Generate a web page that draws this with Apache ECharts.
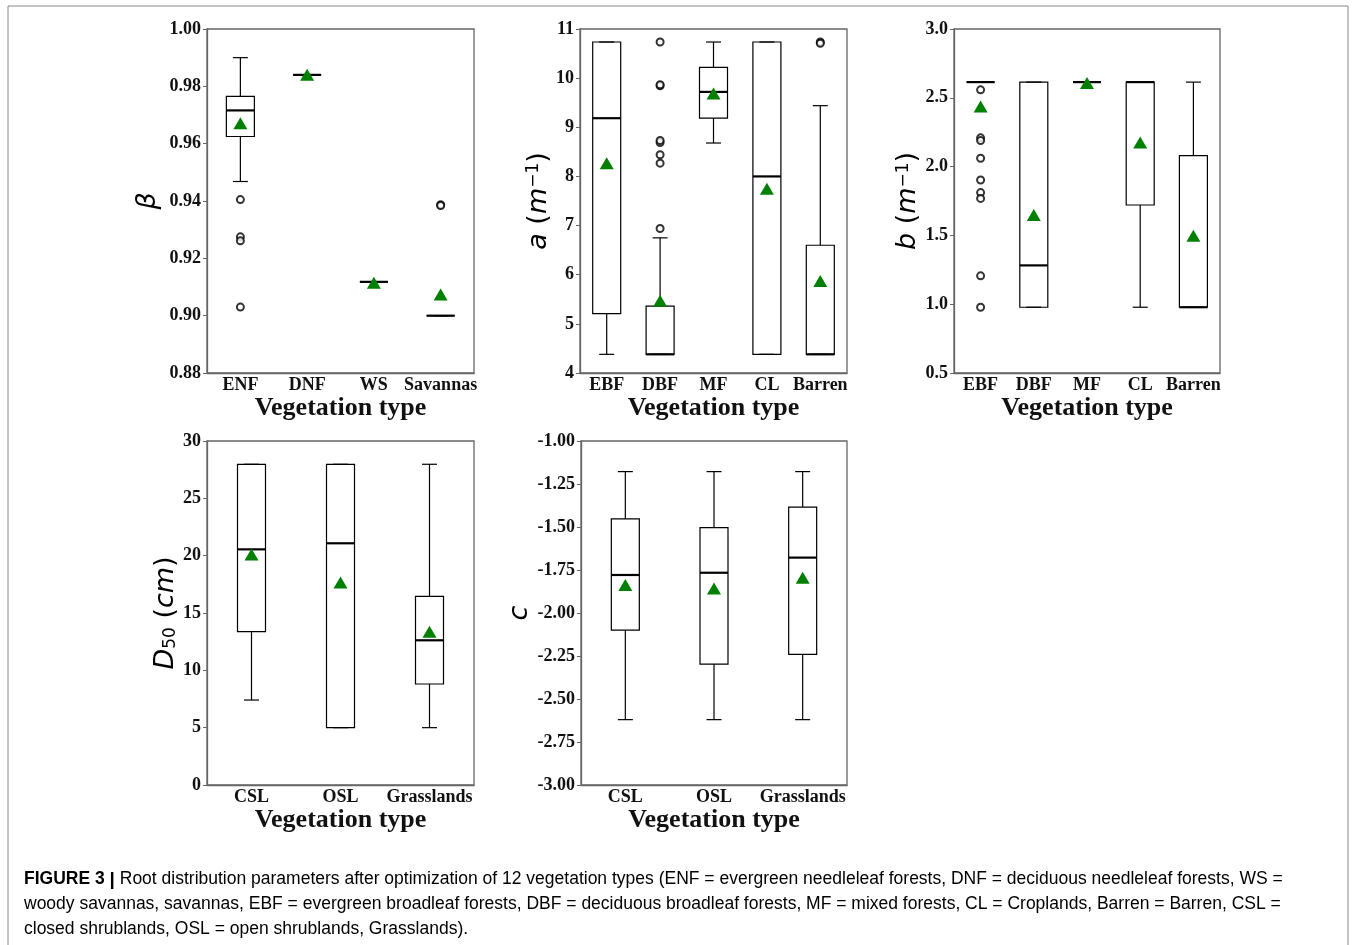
<!DOCTYPE html>
<html>
<head>
<meta charset="utf-8">
<title>Root distribution parameters</title>
<script src="https://cdn.jsdelivr.net/npm/echarts@6/dist/echarts.min.js"></script>
<style>
  html, body { margin: 0; padding: 0; background: #fff; }
  #main { width: 1354px; height: 945px; }
</style>
</head>
<body>
<div id="main"></div>
<script>
// box data: [lower whisker, Q1, median, Q3, upper whisker]
const betaCats = ["ENF", "DNF", "WS", "Savannas"];
const betaBox = [
  [0.9468, 0.9625, 0.9716, 0.9765, 0.990],
  [0.984, 0.984, 0.984, 0.984, 0.984],
  [0.9118, 0.9118, 0.9118, 0.9118, 0.9118],
  [0.900, 0.900, 0.900, 0.900, 0.900]
];
const betaMean = [0.9671, 0.9840, 0.9115, 0.9074];
const betaOut = [[0, 0.9405], [0, 0.9275], [0, 0.9261], [0, 0.9030], [3, 0.9387], [3, 0.9384]];

const aCats = ["EBF", "DBF", "MF", "CL", "Barren"];
const aBox = [
  [4.38, 5.21, 9.185, 10.735, 10.735],
  [4.38, 4.38, 4.38, 5.36, 6.75],
  [8.68, 9.185, 9.72, 10.22, 10.735],
  [4.38, 4.38, 8.0, 10.735, 10.735],
  [4.38, 4.38, 4.38, 6.6, 9.44]
];
const aMean = [8.27, 5.47, 9.69, 7.75, 5.87];
const aOut = [[1, 6.94], [1, 8.27], [1, 8.44], [1, 8.69], [1, 8.73], [1, 9.845], [1, 9.865], [1, 10.735], [4, 10.735], [4, 10.71]];

const bCats = ["EBF", "DBF", "MF", "CL", "Barren"];
const bBox = [
  [2.614, 2.614, 2.614, 2.614, 2.614],
  [0.978, 0.978, 1.282, 2.614, 2.614],
  [2.614, 2.614, 2.614, 2.614, 2.614],
  [0.978, 1.721, 2.614, 2.614, 2.614],
  [0.978, 0.978, 0.978, 2.08, 2.614]
];
const bMean = [2.437, 1.648, 2.607, 2.175, 1.498];
const bOut = [[0, 2.558], [0, 2.209], [0, 2.189], [0, 2.061], [0, 1.903], [0, 1.811], [0, 1.769], [0, 1.206], [0, 0.978]];

const d50Cats = ["CSL", "OSL", "Grasslands"];
const d50Box = [
  [7.41, 13.37, 20.55, 27.97, 27.97],
  [5.0, 5.0, 21.08, 27.97, 27.97],
  [5.0, 8.81, 12.62, 16.45, 27.97]
];
const d50Mean = [20.1, 17.67, 13.37];

const cCats = ["CSL", "OSL", "Grasslands"];
const cBox = [
  [-2.62, -2.099, -1.779, -1.453, -1.178],
  [-2.62, -2.297, -1.766, -1.504, -1.178],
  [-2.62, -2.240, -1.678, -1.384, -1.178]
];
const cMean = [-1.837, -1.857, -1.795];

const serif = "Liberation Serif";
const sans = "DejaVu Sans";
const frameColor = "#666";

// one box: whiskers with half-width caps, box, thicker median
function renderBox(params, api) {
  const i = api.value(0);
  const lo = api.coord([i, api.value(1)]);
  const q1 = api.coord([i, api.value(2)]);
  const md = api.coord([i, api.value(3)]);
  const q3 = api.coord([i, api.value(4)]);
  const hi = api.coord([i, api.value(5)]);
  const w = 28, cap = 15, cx = lo[0];
  const st = { stroke: "#000", lineWidth: 1.2, fill: null };
  const line = (x1, y1, x2, y2, lw) => ({
    type: "line",
    shape: { x1: x1, y1: y1, x2: x2, y2: y2 },
    style: Object.assign({}, st, lw ? { lineWidth: lw } : {})
  });
  return {
    type: "group",
    children: [
      line(cx, lo[1], cx, q1[1]),
      line(cx, q3[1], cx, hi[1]),
      line(cx - cap / 2, lo[1], cx + cap / 2, lo[1]),
      line(cx - cap / 2, hi[1], cx + cap / 2, hi[1]),
      { type: "rect", shape: { x: cx - w / 2, y: q3[1], width: w, height: q1[1] - q3[1] }, style: st },
      line(cx - w / 2, md[1], cx + w / 2, md[1], 2.2)
    ]
  };
}

const grids = [
  { left: 207, top: 29, width: 267, height: 344 },
  { left: 580, top: 29, width: 267, height: 344 },
  { left: 954, top: 29, width: 266, height: 344 },
  { left: 207, top: 441, width: 267, height: 344 },
  { left: 581, top: 441, width: 266, height: 344 }
];

const panels = [
  { cats: betaCats, box: betaBox, mean: betaMean, out: betaOut, min: 0.88, max: 1.0, step: 0.02, dec: 2,
    name: "{i|β}", gap: 46 },
  { cats: aCats, box: aBox, mean: aMean, out: aOut, min: 4, max: 11, step: 1, dec: 0,
    name: "{i|a} ({i|m}{s|−1})", gap: 25 },
  { cats: bCats, box: bBox, mean: bMean, out: bOut, min: 0.5, max: 3.0, step: 0.5, dec: 1,
    name: "{i|b} ({i|m}{s|−1})", gap: 32 },
  { cats: d50Cats, box: d50Box, mean: d50Mean, out: [], min: 0, max: 30, step: 5, dec: 0,
    name: "{i|D}{d|50} ({i|cm})", gap: 26 },
  { cats: cCats, box: cBox, mean: cMean, out: [], min: -3, max: -1, step: 0.25, dec: 2,
    name: "{i|c}", gap: 46 }
];

const nameRich = {
  i: { fontFamily: sans, fontStyle: "italic", fontSize: 27, color: "#000" },
  s: { fontFamily: sans, fontSize: 17, color: "#000", verticalAlign: "top", lineHeight: 8 },
  d: { fontFamily: sans, fontSize: 17, color: "#000", verticalAlign: "bottom", lineHeight: 14 }
};

const xAxes = [], yAxes = [], series = [];
panels.forEach((p, k) => {
  xAxes.push({
    type: "category", gridIndex: k, data: p.cats, boundaryGap: true,
    axisLine: { lineStyle: { color: frameColor, width: 1.3 } },
    axisTick: { alignWithLabel: true, length: 5, lineStyle: { color: frameColor } },
    axisLabel: { interval: 0, margin: 3, fontFamily: serif, fontWeight: "bold", fontSize: 18, color: "#111" },
    splitLine: { show: false },
    name: "Vegetation type", nameLocation: "middle", nameGap: 21,
    nameTextStyle: { fontFamily: serif, fontWeight: "bold", fontSize: 26, color: "#111", verticalAlign: "top" }
  });
  yAxes.push({
    type: "value", gridIndex: k, min: p.min, max: p.max, interval: p.step,
    axisLine: { show: true, lineStyle: { color: frameColor, width: 1.3 } },
    axisTick: { show: true, length: 4, lineStyle: { color: frameColor } },
    axisLabel: { margin: 6, fontFamily: serif, fontWeight: "bold", fontSize: 18, color: "#111",
      formatter: v => v.toFixed(p.dec) },
    splitLine: { show: false },
    name: p.name, nameLocation: "middle", nameRotate: 90, nameGap: p.gap,
    nameTextStyle: { fontFamily: sans, fontSize: 27, color: "#000", rich: nameRich }
  });
  series.push({
    type: "custom", xAxisIndex: k, yAxisIndex: k, renderItem: renderBox,
    encode: { x: 0, y: [1, 2, 3, 4, 5] }, silent: true, z: 2,
    data: p.box.map((b, i) => [i].concat(b))
  });
  series.push({
    type: "scatter", xAxisIndex: k, yAxisIndex: k, symbol: "emptyCircle", symbolSize: 7,
    itemStyle: { color: "#000", borderColor: "#000", borderWidth: 1 }, z: 3,
    data: p.out
  });
  series.push({
    type: "scatter", xAxisIndex: k, yAxisIndex: k, symbol: "triangle", symbolSize: [14, 12],
    itemStyle: { color: "#008000", opacity: 1 }, z: 4,
    data: p.mean.map((m, i) => [i, m])
  });
});

const captionRich = {
  b: { fontFamily: "Liberation Sans", fontWeight: "bold", fontSize: 17.5, color: "#111" },
  bar: { fontFamily: "Liberation Sans", fontWeight: "bold", fontSize: 19, color: "#111" },
  t: { fontFamily: "Liberation Sans", fontSize: 17.5, color: "#333" }
};
const captionLines = [
  "{b|FIGURE 3 }{bar||}{t| Root distribution parameters after optimization of 12 vegetation types (ENF = evergreen needleleaf forests, DNF = deciduous needleleaf forests, WS =}",
  "{t|woody savannas, savannas, EBF = evergreen broadleaf forests, DBF = deciduous broadleaf forests, MF = mixed forests, CL = Croplands, Barren = Barren, CSL =}",
  "{t|closed shrublands, OSL = open shrublands, Grasslands).}"
];

const option = {
  backgroundColor: "#fff",
  animation: false,
  grid: grids.map(g => Object.assign({ show: true, borderColor: frameColor, borderWidth: 1.3, backgroundColor: "#fff" }, g)),
  xAxis: xAxes,
  yAxis: yAxes,
  series: series,
  graphic: [
    { type: "rect", silent: true, shape: { x: 8, y: 6, width: 1340, height: 1000 },
      style: { fill: null, stroke: "#888", lineWidth: 1 } }
  ].concat(captionLines.map((s, i) => ({
    type: "text", left: 24, top: 870 + i * 25, silent: true,
    style: { text: s, rich: captionRich, fontFamily: "Liberation Sans", fontSize: 17.5 }
  })))
};

const chart = echarts.init(document.getElementById("main"));
chart.setOption(option);
</script>
</body>
</html>
